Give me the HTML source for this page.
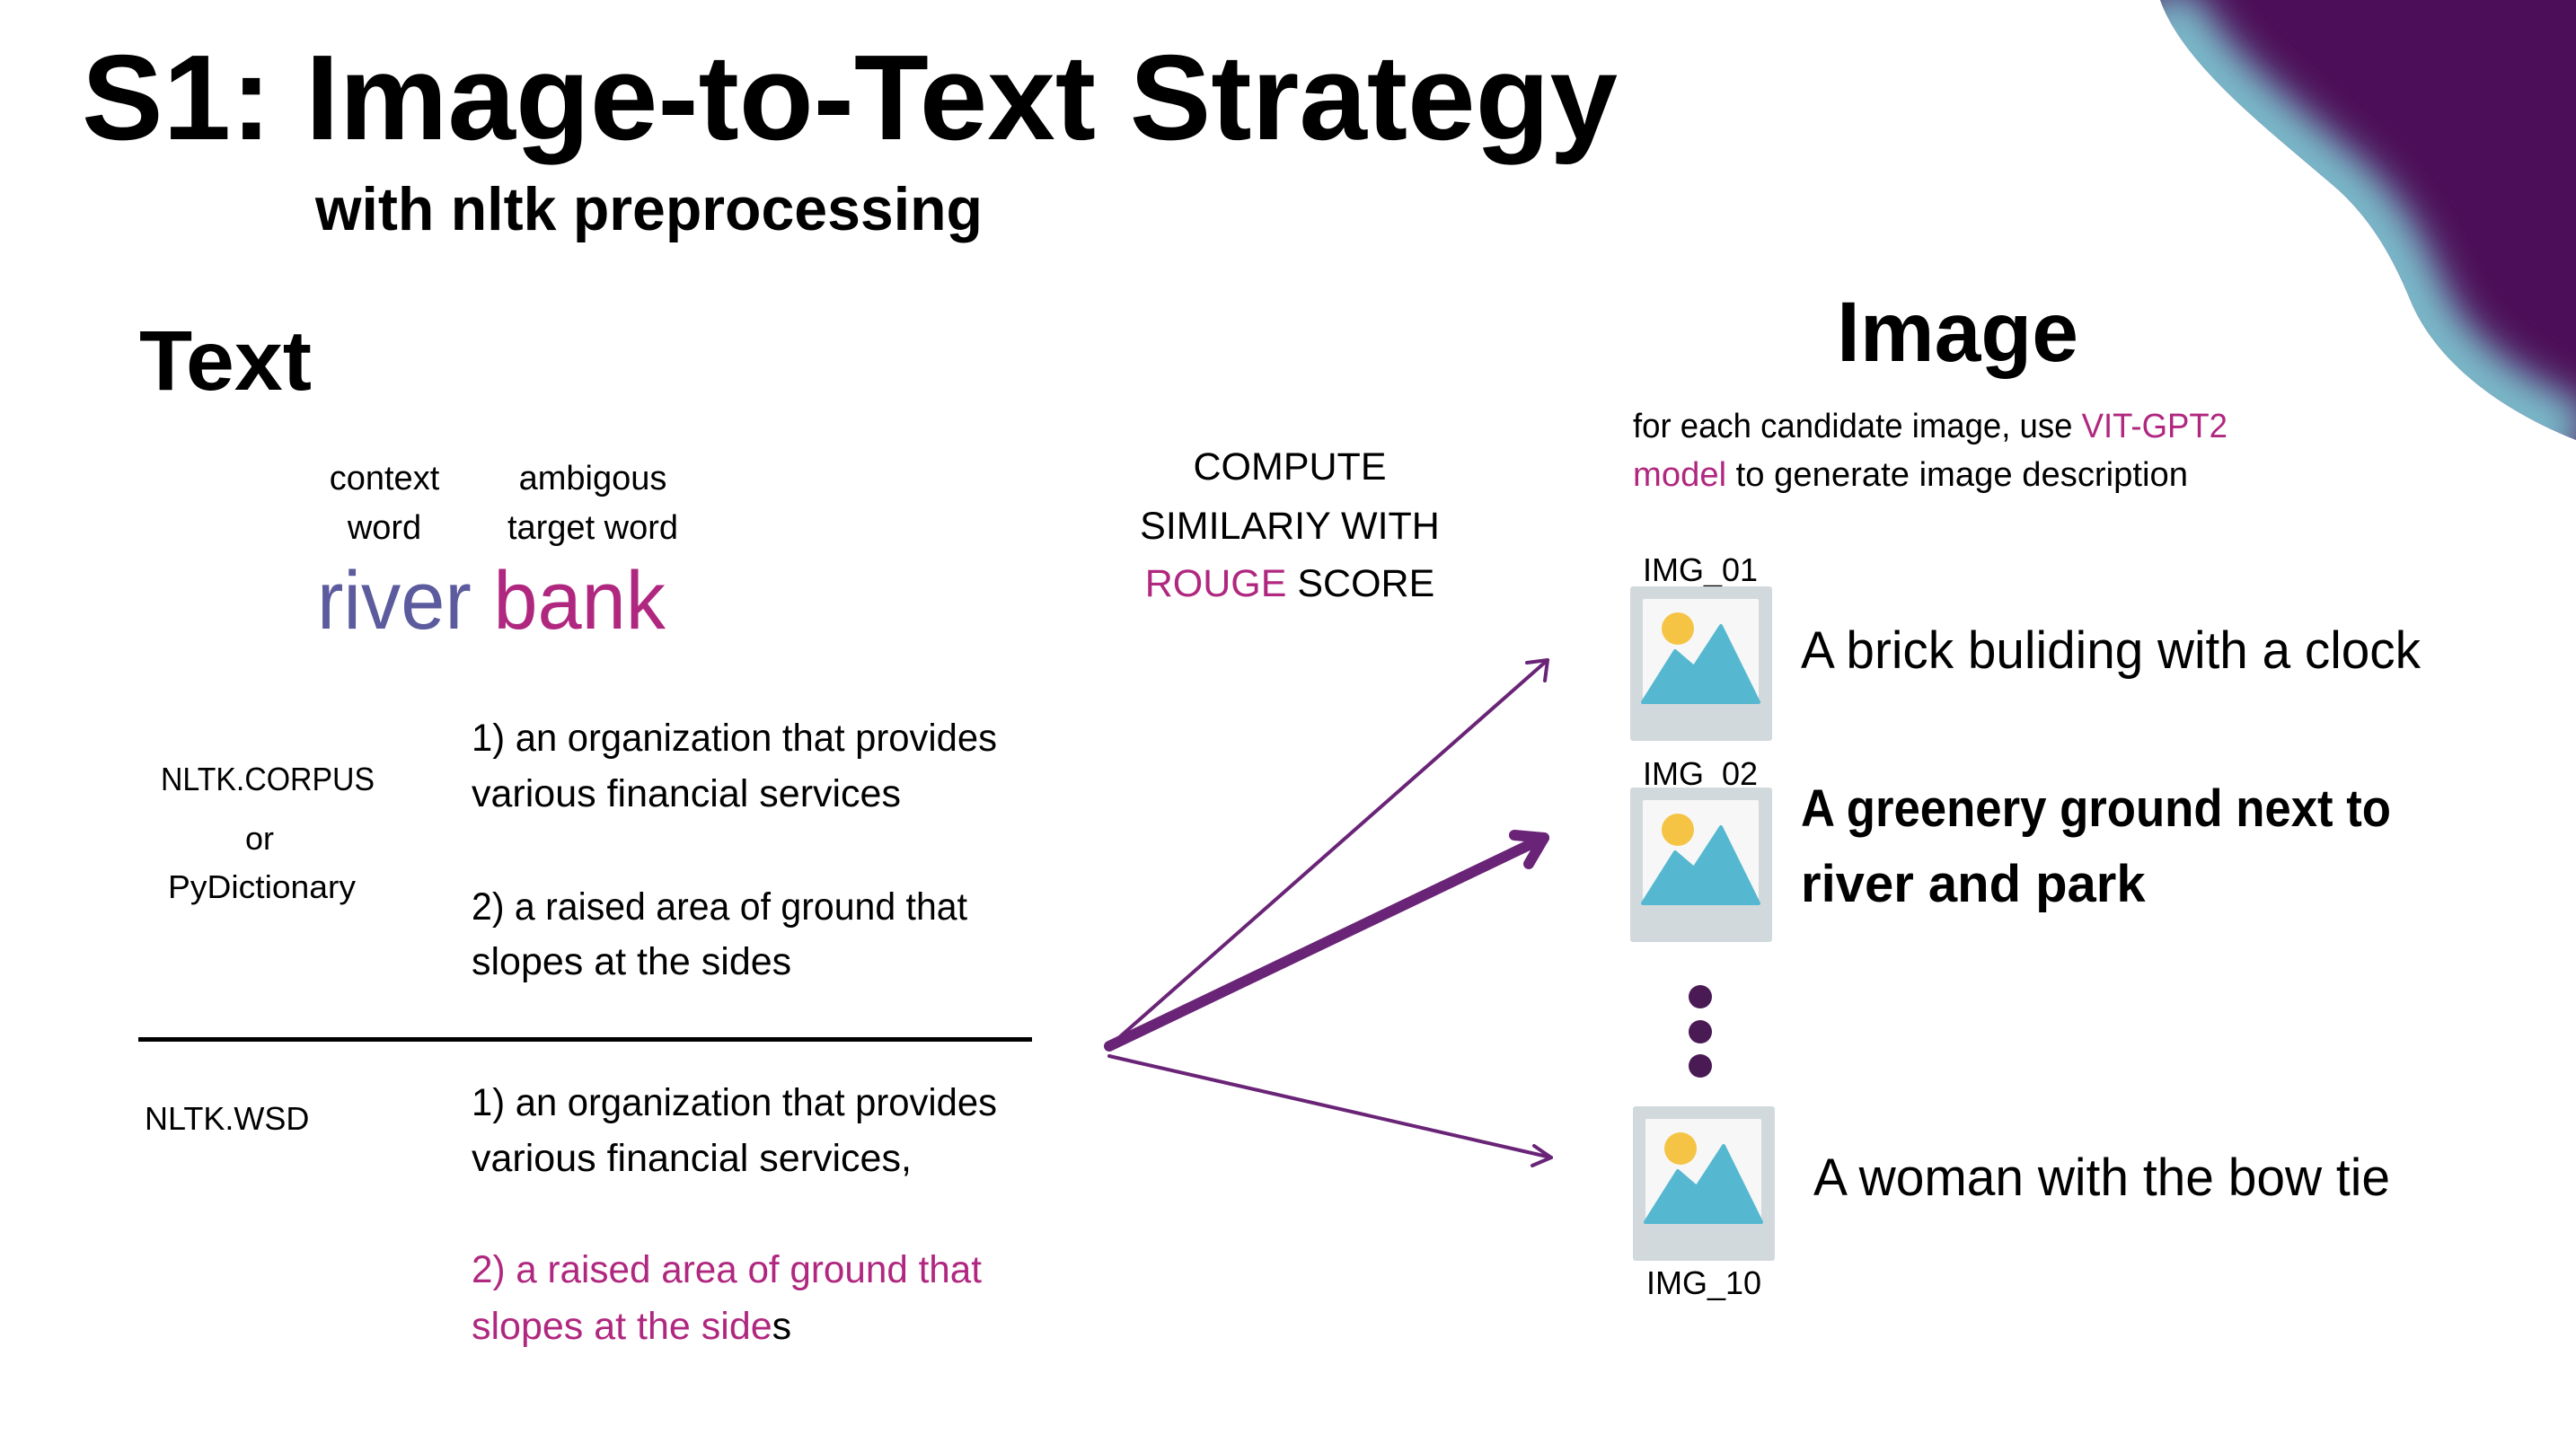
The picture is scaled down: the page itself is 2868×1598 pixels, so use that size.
<!DOCTYPE html>
<html><head><meta charset="utf-8"><style>html,body{margin:0;padding:0;background:#fff}svg{display:block}</style></head>
<body>
<svg width="2868" height="1598" viewBox="0 0 2868 1598" xmlns="http://www.w3.org/2000/svg" font-family="Liberation Sans, sans-serif">
<defs>
<clipPath id="bc"><path d="M2405 0 C2430 70 2520 140 2590 200 C2640 240 2665 290 2683 333 C2710 400 2780 455 2868 490 L2868 0 Z"/></clipPath>
<filter id="bl" x="-20%" y="-20%" width="140%" height="140%"><feGaussianBlur stdDeviation="22"/></filter>
<g id="icon">
<rect x="0" y="0" width="158" height="172" rx="3" fill="#d2d9dd"/>
<rect x="14" y="14" width="129" height="115" rx="2" fill="#f7f7f7"/>
<circle cx="53" cy="47" r="18" fill="#f5c445"/>
<path d="M14 129 L50 72 L71 90 L101 44 L143 129 Z" fill="#55b8d0" stroke="#55b8d0" stroke-linejoin="round" stroke-width="4"/>
</g>
</defs>
<g clip-path="url(#bc)">
<rect x="2380" y="0" width="488" height="500" fill="#4c0e58"/>
<path d="M2405 0 C2430 70 2520 140 2590 200 C2640 240 2665 290 2683 333 C2710 400 2780 455 2868 490" fill="none" stroke="#7cbccc" stroke-width="80" filter="url(#bl)"/>
<path d="M2405 0 C2430 70 2520 140 2590 200 C2640 240 2665 290 2683 333 C2710 400 2780 455 2868 490" fill="none" stroke="#7ab8c8" stroke-width="20" opacity="0.7" filter="url(#bl)"/>
</g>

<text x="91" y="155" font-size="135" font-weight="bold" textLength="1710" lengthAdjust="spacingAndGlyphs">S1: Image-to-Text Strategy</text>
<text x="351" y="256" font-size="68" font-weight="bold" textLength="743" lengthAdjust="spacingAndGlyphs">with nltk preprocessing</text>
<text x="155" y="434" font-size="95" font-weight="bold" textLength="192" lengthAdjust="spacingAndGlyphs">Text</text>
<text x="2045" y="402" font-size="95" font-weight="bold" textLength="269" lengthAdjust="spacingAndGlyphs">Image</text>
<text x="1818" y="487" font-size="38" textLength="662" lengthAdjust="spacingAndGlyphs">for each candidate image, use <tspan fill="#b0277f">VIT-GPT2</tspan></text>
<text x="1818" y="541" font-size="38" textLength="618" lengthAdjust="spacingAndGlyphs"><tspan fill="#b0277f">model</tspan> to generate image description</text>

<g font-size="38" text-anchor="middle">
<text x="428" y="545">context</text><text x="428" y="600">word</text>
<text x="660" y="545">ambigous</text><text x="660" y="600">target word</text>
</g>
<text x="353" y="700" font-size="92" textLength="388" lengthAdjust="spacingAndGlyphs"><tspan fill="#5b5b9e">river </tspan><tspan fill="#b0277f">bank</tspan></text>

<g font-size="43" text-anchor="middle">
<text x="1436" y="534">COMPUTE</text>
<text x="1436" y="600">SIMILARIY WITH</text>
<text x="1436" y="664"><tspan fill="#b0277f">ROUGE</tspan> SCORE</text>
</g>

<text x="179" y="880" font-size="36" textLength="238" lengthAdjust="spacingAndGlyphs">NLTK.CORPUS</text>
<text x="289" y="946" font-size="36" text-anchor="middle">or</text>
<text x="187" y="1000" font-size="36" textLength="209" lengthAdjust="spacingAndGlyphs">PyDictionary</text>
<text x="161" y="1258" font-size="36">NLTK.WSD</text>

<g font-size="43">
<text x="525" y="836" textLength="585" lengthAdjust="spacingAndGlyphs">1) an organization that provides</text>
<text x="525" y="898">various financial services</text>
<text x="525" y="1024" textLength="552" lengthAdjust="spacingAndGlyphs">2) a raised area of ground that</text>
<text x="525" y="1085">slopes at the sides</text>
<text x="525" y="1242" textLength="585" lengthAdjust="spacingAndGlyphs">1) an organization that provides</text>
<text x="525" y="1304">various financial services,</text>
<text x="525" y="1428" fill="#b0277f" textLength="568" lengthAdjust="spacingAndGlyphs">2) a raised area of ground that</text>
<text x="525" y="1491"><tspan fill="#b0277f">slopes at the side</tspan>s</text>
</g>
<rect x="154" y="1155" width="995" height="5" fill="#000"/>

<g stroke="#6a2477" fill="none" stroke-linecap="round" stroke-linejoin="round">
<line x1="1235" y1="1165" x2="1723" y2="735" stroke-width="4"/>
<polyline points="1700,738 1723,735 1720,758" stroke-width="4"/>
<line x1="1235" y1="1165" x2="1719" y2="933" stroke-width="12"/>
<polyline points="1686,930 1719,933 1702,962" stroke-width="12"/>
<line x1="1235" y1="1176" x2="1727" y2="1289" stroke-width="4"/>
<polyline points="1708,1276 1727,1289 1706,1298" stroke-width="4"/>
</g>

<g font-size="36" text-anchor="middle">
<text x="1893" y="647">IMG_01</text>
<text x="1893" y="874">IMG_02</text>
<text x="1897" y="1441">IMG_10</text>
</g>
<use href="#icon" x="1815" y="653"/>
<use href="#icon" x="1815" y="877"/>
<use href="#icon" x="1818" y="1232"/>

<g fill="#4a1a55"><circle cx="1893" cy="1110" r="13"/><circle cx="1893" cy="1149" r="13"/><circle cx="1893" cy="1187" r="13"/></g>

<text x="2005" y="744" font-size="58" textLength="690" lengthAdjust="spacingAndGlyphs">A brick buliding with a clock</text>
<text x="2005" y="920" font-size="58" font-weight="bold" textLength="657" lengthAdjust="spacingAndGlyphs">A greenery ground next to</text>
<text x="2005" y="1004" font-size="58" font-weight="bold">river and park</text>
<text x="2019" y="1331" font-size="58" textLength="642" lengthAdjust="spacingAndGlyphs">A woman with the bow tie</text>
</svg>
</body></html>
